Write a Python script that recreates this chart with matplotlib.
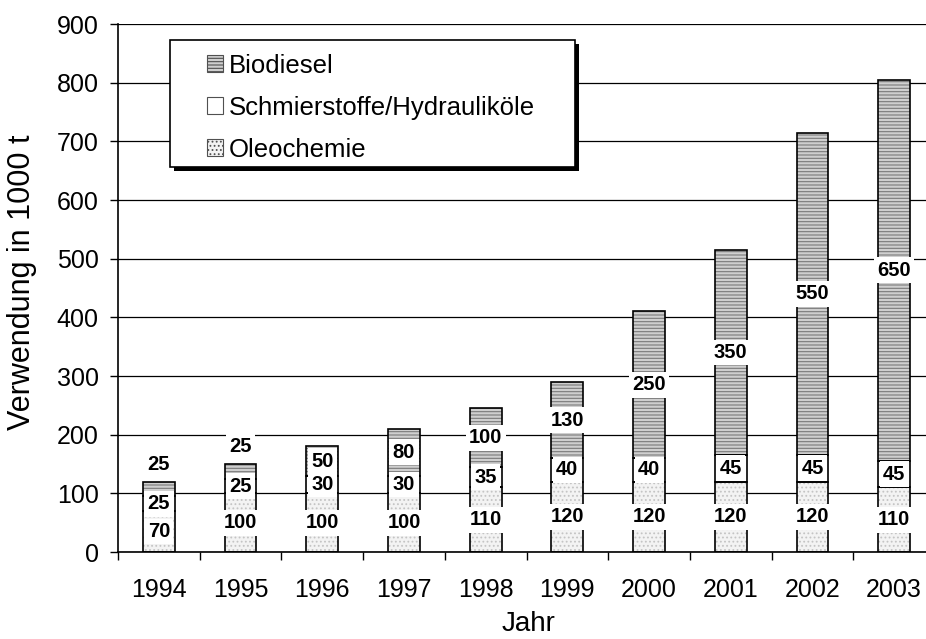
import numpy as np
import matplotlib.pyplot as plt
from matplotlib.patches import Patch, Rectangle

plt.rcParams['font.family'] = ['Liberation Sans', 'DejaVu Sans']
plt.rcParams['hatch.linewidth'] = 0.8

years = ['1994', '1995', '1996', '1997', '1998', '1999', '2000', '2001', '2002', '2003']
oleochemie = [70, 100, 100, 100, 110, 120, 120, 120, 120, 110]
schmierstoffe = [25, 25, 30, 30, 35, 40, 40, 45, 45, 45]
biodiesel = [25, 25, 50, 80, 100, 130, 250, 350, 550, 650]
series_names = ['Oleochemie', 'Schmierstoffe/Hydrauliköle', 'Biodiesel']

# fill, hatch, hatch colour per series
styles = [('#f3f3f3', '....', '#c4c4c4'),
          ('white', '', 'white'),
          ('#cfcfcf', '-----', '#7a7a7a')]

fig = plt.figure(figsize=(9.26, 6.39), dpi=100)
ax = fig.add_axes([118 / 926, 1 - 552 / 639, 817 / 926, 528 / 639])

x = np.arange(len(years))
width = 0.39
bottom = np.zeros(len(years))
for vals, (fc, hatch, hc) in zip([oleochemie, schmierstoffe, biodiesel], styles):
    vals = np.array(vals, dtype=float)
    ax.bar(x, vals, width, bottom=bottom, color=fc, hatch=hatch,
           edgecolor=hc, linewidth=0, zorder=2)
    ax.bar(x, vals, width, bottom=bottom, fill=False,
           edgecolor='black', linewidth=1.2, zorder=3)
    bottom += vals

# value labels
bottom = np.zeros(len(years))
for k, vals in enumerate([oleochemie, schmierstoffe, biodiesel]):
    vals = np.array(vals, dtype=float)
    for i, v in enumerate(vals):
        ypos = bottom[i] + v / 2
        if k == 2 and v < 40:
            ypos = bottom[i] + v + 30
        ax.text(x[i], ypos, f'{int(v)}', ha='center', va='center',
                fontsize=14.5, fontweight='bold', zorder=4,
                bbox=dict(facecolor='white', edgecolor='none', pad=2.5))
    bottom += vals

ax.set_xlim(-0.5, len(years) - 0.5)
ax.set_ylim(0, 900)
ax.set_yticks(np.arange(0, 901, 100))
ax.yaxis.grid(True, color='black', linewidth=0.9, zorder=0)
ax.set_axisbelow(True)

ax.set_xticks(x)
ax.set_xticklabels(years)
ax.set_xticks(np.arange(-0.5, len(years), 1), minor=True)
ax.tick_params(axis='x', which='major', length=0, pad=19, labelsize=18)
ax.tick_params(axis='x', which='minor', length=6, width=1, direction='out')
ax.tick_params(axis='y', length=6, width=1, pad=8, labelsize=18)

for s in ['top', 'right']:
    ax.spines[s].set_visible(False)
for s in ['left', 'bottom']:
    ax.spines[s].set_linewidth(1.2)

ax.set_ylabel('Verwendung in 1000 t', fontsize=22)
ax.yaxis.label.set_va('center')
ax.yaxis.set_label_coords(-0.117, 0.51)
ax.set_xlabel('Jahr', fontsize=20)
ax.xaxis.set_label_coords(0.502, -0.112)

# legend box with shadow
bx0, bx1, by0, by1 = 0.0636, 0.559, 0.729, 0.970
off_x, off_y = 4 / 817, 4 / 528
ax.add_patch(Rectangle((bx0 + off_x, by0 - off_y), bx1 - bx0, by1 - by0,
                       transform=ax.transAxes, facecolor='black',
                       edgecolor='none', zorder=5))
ax.add_patch(Rectangle((bx0, by0), bx1 - bx0, by1 - by0,
                       transform=ax.transAxes, facecolor='white',
                       edgecolor='black', linewidth=1.2, zorder=5.1))

handles = [Patch(facecolor=fc, hatch=hatch, edgecolor='#505050', linewidth=0.8)
           for fc, hatch, hc in styles]
leg = ax.legend(handles[::-1], series_names[::-1], loc='center',
                bbox_to_anchor=((bx0 + bx1) / 2 - 0.002, (by0 + by1) / 2 - 0.008),
                frameon=False, fontsize=18.5, handlelength=0.65,
                handleheight=0.65, handletextpad=0.2, labelspacing=0.7)
leg.set_zorder(6)

fig.savefig('out.png', dpi=100)
